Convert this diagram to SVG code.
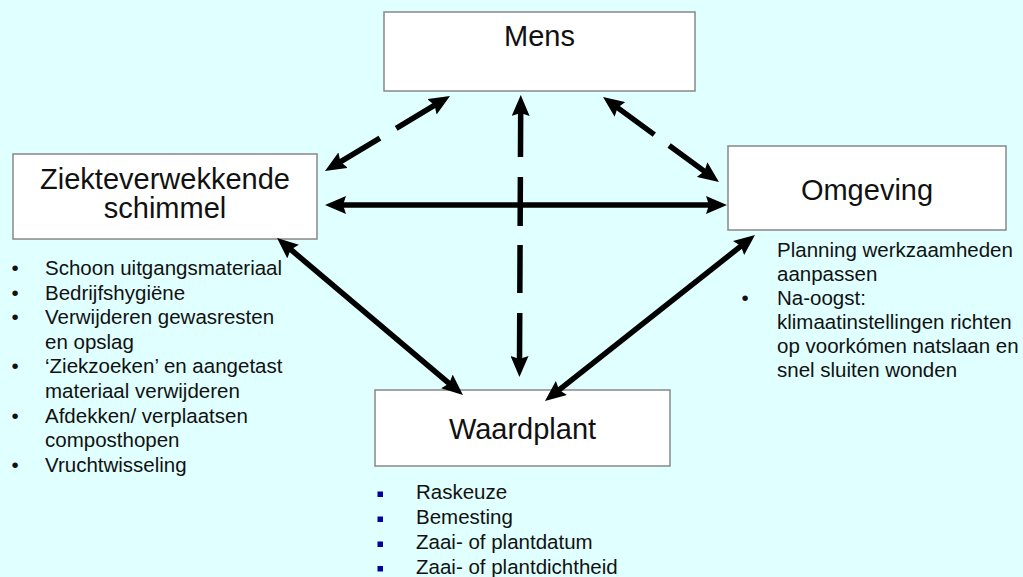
<svg xmlns="http://www.w3.org/2000/svg" width="1023" height="577" viewBox="0 0 1023 577">
<defs>
<style>
.box{fill:#ffffff;stroke:#888888;stroke-width:1.5}
.lbl{font-family:"Liberation Sans",Arial,sans-serif;font-size:29px;fill:#111111;text-anchor:middle}
.lst{font-family:"Liberation Sans",Arial,sans-serif;font-size:20.5px;fill:#111111}
.blt{font-family:"Liberation Sans",Arial,sans-serif;font-size:20.5px;fill:#111111;text-anchor:middle}
.sq{fill:#0000a0}
.con{fill:none;stroke:#000000;stroke-width:5.5;marker-start:url(#ah);marker-end:url(#ah)}
</style>
<marker id="ah" markerUnits="userSpaceOnUse" markerWidth="21" markerHeight="18" viewBox="0 0 21 18" refX="9" refY="9" orient="auto-start-reverse">
<path d="M0,0 L21,9 L0,18 L3,9 z" fill="#000000"/>
</marker>
</defs>
<rect x="0" y="0" width="1023" height="577" fill="#e0ffff"/>

<g id="mens">
<rect class="box" x="384" y="12" width="311" height="79"/>
<text class="lbl" x="539.5" y="46">Mens</text>
</g>

<g id="ziekteverwekkende-schimmel">
<rect class="box" x="13" y="154" width="304" height="85"/>
<text class="lbl" x="165" y="189">Ziekteverwekkende</text>
<text class="lbl" x="165" y="218">schimmel</text>
</g>

<g id="omgeving">
<rect class="box" x="728" y="146" width="278" height="84"/>
<text class="lbl" x="867" y="200">Omgeving</text>
</g>

<g id="waardplant">
<rect class="box" x="375" y="390" width="295" height="76"/>
<text class="lbl" x="522.5" y="439">Waardplant</text>
</g>

<g id="connectors">
<path class="con" d="M335.3,164.8 L439.7,102.2" stroke-dasharray="52 19 60"/>
<path class="con" d="M337,205 L715,205"/>
<path class="con" d="M612.7,104.1 L709.3,174.9" stroke-dasharray="51.6 18.4 80"/>
<path class="con" d="M520.7,107 L519.5,365" stroke-dasharray="50 20 49 19 48 20 70"/>
<path class="con" d="M286.2,245.7 L453.8,387.3"/>
<path class="con" d="M745.6,242.4 L554.4,393.6"/>
</g>

<g id="list-schimmel">
<text class="blt" x="15" y="275">•</text>
<text class="lst" x="45" y="275">Schoon uitgangsmateriaal</text>
<text class="blt" x="15" y="299.6">•</text>
<text class="lst" x="45" y="299.6">Bedrijfshygiëne</text>
<text class="blt" x="15" y="324.2">•</text>
<text class="lst" x="45" y="324.2">Verwijderen gewasresten</text>
<text class="lst" x="45" y="348.8">en opslag</text>
<text class="blt" x="15" y="373.4">•</text>
<text class="lst" x="45" y="373.4">‘Ziekzoeken’ en aangetast</text>
<text class="lst" x="45" y="398">materiaal verwijderen</text>
<text class="blt" x="15" y="422.6">•</text>
<text class="lst" x="45" y="422.6">Afdekken/ verplaatsen</text>
<text class="lst" x="45" y="447.2">composthopen</text>
<text class="blt" x="15" y="471.8">•</text>
<text class="lst" x="45" y="471.8">Vruchtwisseling</text>
</g>

<g id="list-omgeving">
<text class="lst" x="777" y="257">Planning werkzaamheden</text>
<text class="lst" x="777" y="281">aanpassen</text>
<text class="blt" x="745" y="305">•</text>
<text class="lst" x="777" y="305">Na-oogst:</text>
<text class="lst" x="777" y="329">klimaatinstellingen richten</text>
<text class="lst" x="777" y="353">op voorkómen natslaan en</text>
<text class="lst" x="777" y="377">snel sluiten wonden</text>
</g>

<g id="list-waardplant">
<rect class="sq" x="377.5" y="491.5" width="5.5" height="5.5"/>
<text class="lst" x="416" y="499">Raskeuze</text>
<rect class="sq" x="377.5" y="516.5" width="5.5" height="5.5"/>
<text class="lst" x="416" y="524">Bemesting</text>
<rect class="sq" x="377.5" y="541.5" width="5.5" height="5.5"/>
<text class="lst" x="416" y="549">Zaai- of plantdatum</text>
<rect class="sq" x="377.5" y="566" width="5.5" height="5.5"/>
<text class="lst" x="416" y="574">Zaai- of plantdichtheid</text>
</g>
</svg>
